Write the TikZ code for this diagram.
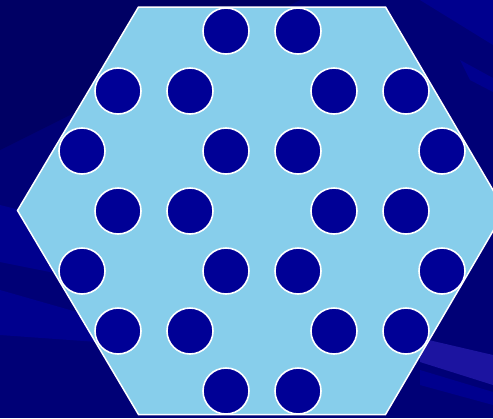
\documentclass[tikz,border=0pt]{standalone}
\begin{document}
\begin{tikzpicture}[x=1pt,y=-1pt,
  hole/.style={circle,draw=white,line width=1.6pt,fill=holeblue,minimum size=46pt,inner sep=0pt}]
\definecolor{bgblue}{RGB}{0,0,118}
\definecolor{bgdark}{RGB}{0,0,100}
\definecolor{bglight}{RGB}{0,0,142}
\definecolor{streak}{RGB}{28,20,160}
\definecolor{hexblue}{RGB}{135,206,235}
\definecolor{holeblue}{RGB}{0,0,150}
\useasboundingbox (0,0) rectangle (493,418);
\clip (0,0) rectangle (493,418);
% background
\fill[bgblue] (0,0) rectangle (493,418);
\fill[bgdark] (0,0) -- (300,0) -- (0,150) -- cycle;
\fill[bglight] (0,205) -- (140,240) -- (140,290) -- (0,262) -- cycle;
\fill[bglight] (0,290) -- (140,330) -- (140,345) -- (0,335) -- cycle;
\fill[bglight] (420,0) -- (493,0) -- (493,45) -- cycle;
\fill[bglight] (460,60) -- (493,78) -- (493,92) -- (470,80) -- cycle;
\fill[streak] (420,338) -- (493,355) -- (493,385) -- (420,362) -- cycle;
\fill[bglight] (420,370) -- (493,392) -- (493,405) -- (420,385) -- cycle;
% hexagon
\draw[white,line width=1.5pt,fill=hexblue]
  (138.5,7) -- (385.5,7) -- (505,210.5) -- (385.5,414.5) -- (138.5,414.5) -- (17.5,210.5) -- cycle;
% holes
\node[hole] (c11) at (226,31) {};
\node[hole] (c12) at (298,31) {};
\node[hole] (c21) at (118,91) {};
\node[hole] (c22) at (190,91) {};
\node[hole] (c23) at (334,91) {};
\node[hole] (c24) at (406,91) {};
\node[hole] (c31) at (82,151) {};
\node[hole] (c32) at (226,151) {};
\node[hole] (c33) at (298,151) {};
\node[hole] (c34) at (442,151) {};
\node[hole] (c41) at (118,211) {};
\node[hole] (c42) at (190,211) {};
\node[hole] (c43) at (334,211) {};
\node[hole] (c44) at (406,211) {};
\node[hole] (c51) at (82,271) {};
\node[hole] (c52) at (226,271) {};
\node[hole] (c53) at (298,271) {};
\node[hole] (c54) at (442,271) {};
\node[hole] (c61) at (118,331) {};
\node[hole] (c62) at (190,331) {};
\node[hole] (c63) at (334,331) {};
\node[hole] (c64) at (406,331) {};
\node[hole] (c71) at (226,391) {};
\node[hole] (c72) at (298,391) {};
\end{tikzpicture}
\end{document}
